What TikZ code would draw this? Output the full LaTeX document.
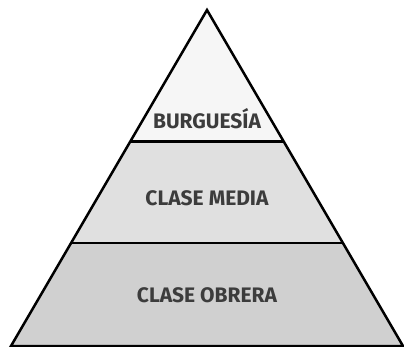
\documentclass[tikz,border=0pt]{standalone}
\usepackage{fontspec}
\setmainfont{Fira Sans}
\definecolor{topgray}{HTML}{F6F6F6}
\definecolor{midgray}{HTML}{E0E0E0}
\definecolor{lowgray}{HTML}{D0D0D0}
\definecolor{textgray}{HTML}{3C3C3C}
\tikzset{
	label text/.style = {anchor=base, text=textgray, font=\fontsize{21}{21}\selectfont\bfseries},
}
\begin{document}
\begin{tikzpicture}[x=1pt,y=-1pt,line width=2.5pt,line join=miter]
	\useasboundingbox (0,0) rectangle (404,346);
	\coordinate (T)  at (207,   10);
	\coordinate (L1) at (130.3, 141.5);
	\coordinate (R1) at (283.7, 141.5);
	\coordinate (L2) at (71.1,  243);
	\coordinate (R2) at (342.9, 243);
	\coordinate (BL) at (11,    346);
	\coordinate (BR) at (403,   346);
	% bands
	\fill[topgray] (T) -- (R1) -- (L1) -- cycle;
	\fill[midgray] (L1) -- (R1) -- (R2) -- (L2) -- cycle;
	\fill[lowgray] (L2) -- (R2) -- (BR) -- (BL) -- cycle;
	% outline and dividers
	\draw (T) -- (BR) -- (BL) -- cycle;
	\draw (L1) -- (R1);
	\draw (L2) -- (R2);
	\node (burg)   at (207, 128) [label text] {BURGUESÍA};
	\node (media)  at (207, 205) [label text] {CLASE MEDIA};
	\node (obrera) at (207, 302) [label text] {CLASE OBRERA};
\end{tikzpicture}
\end{document}
